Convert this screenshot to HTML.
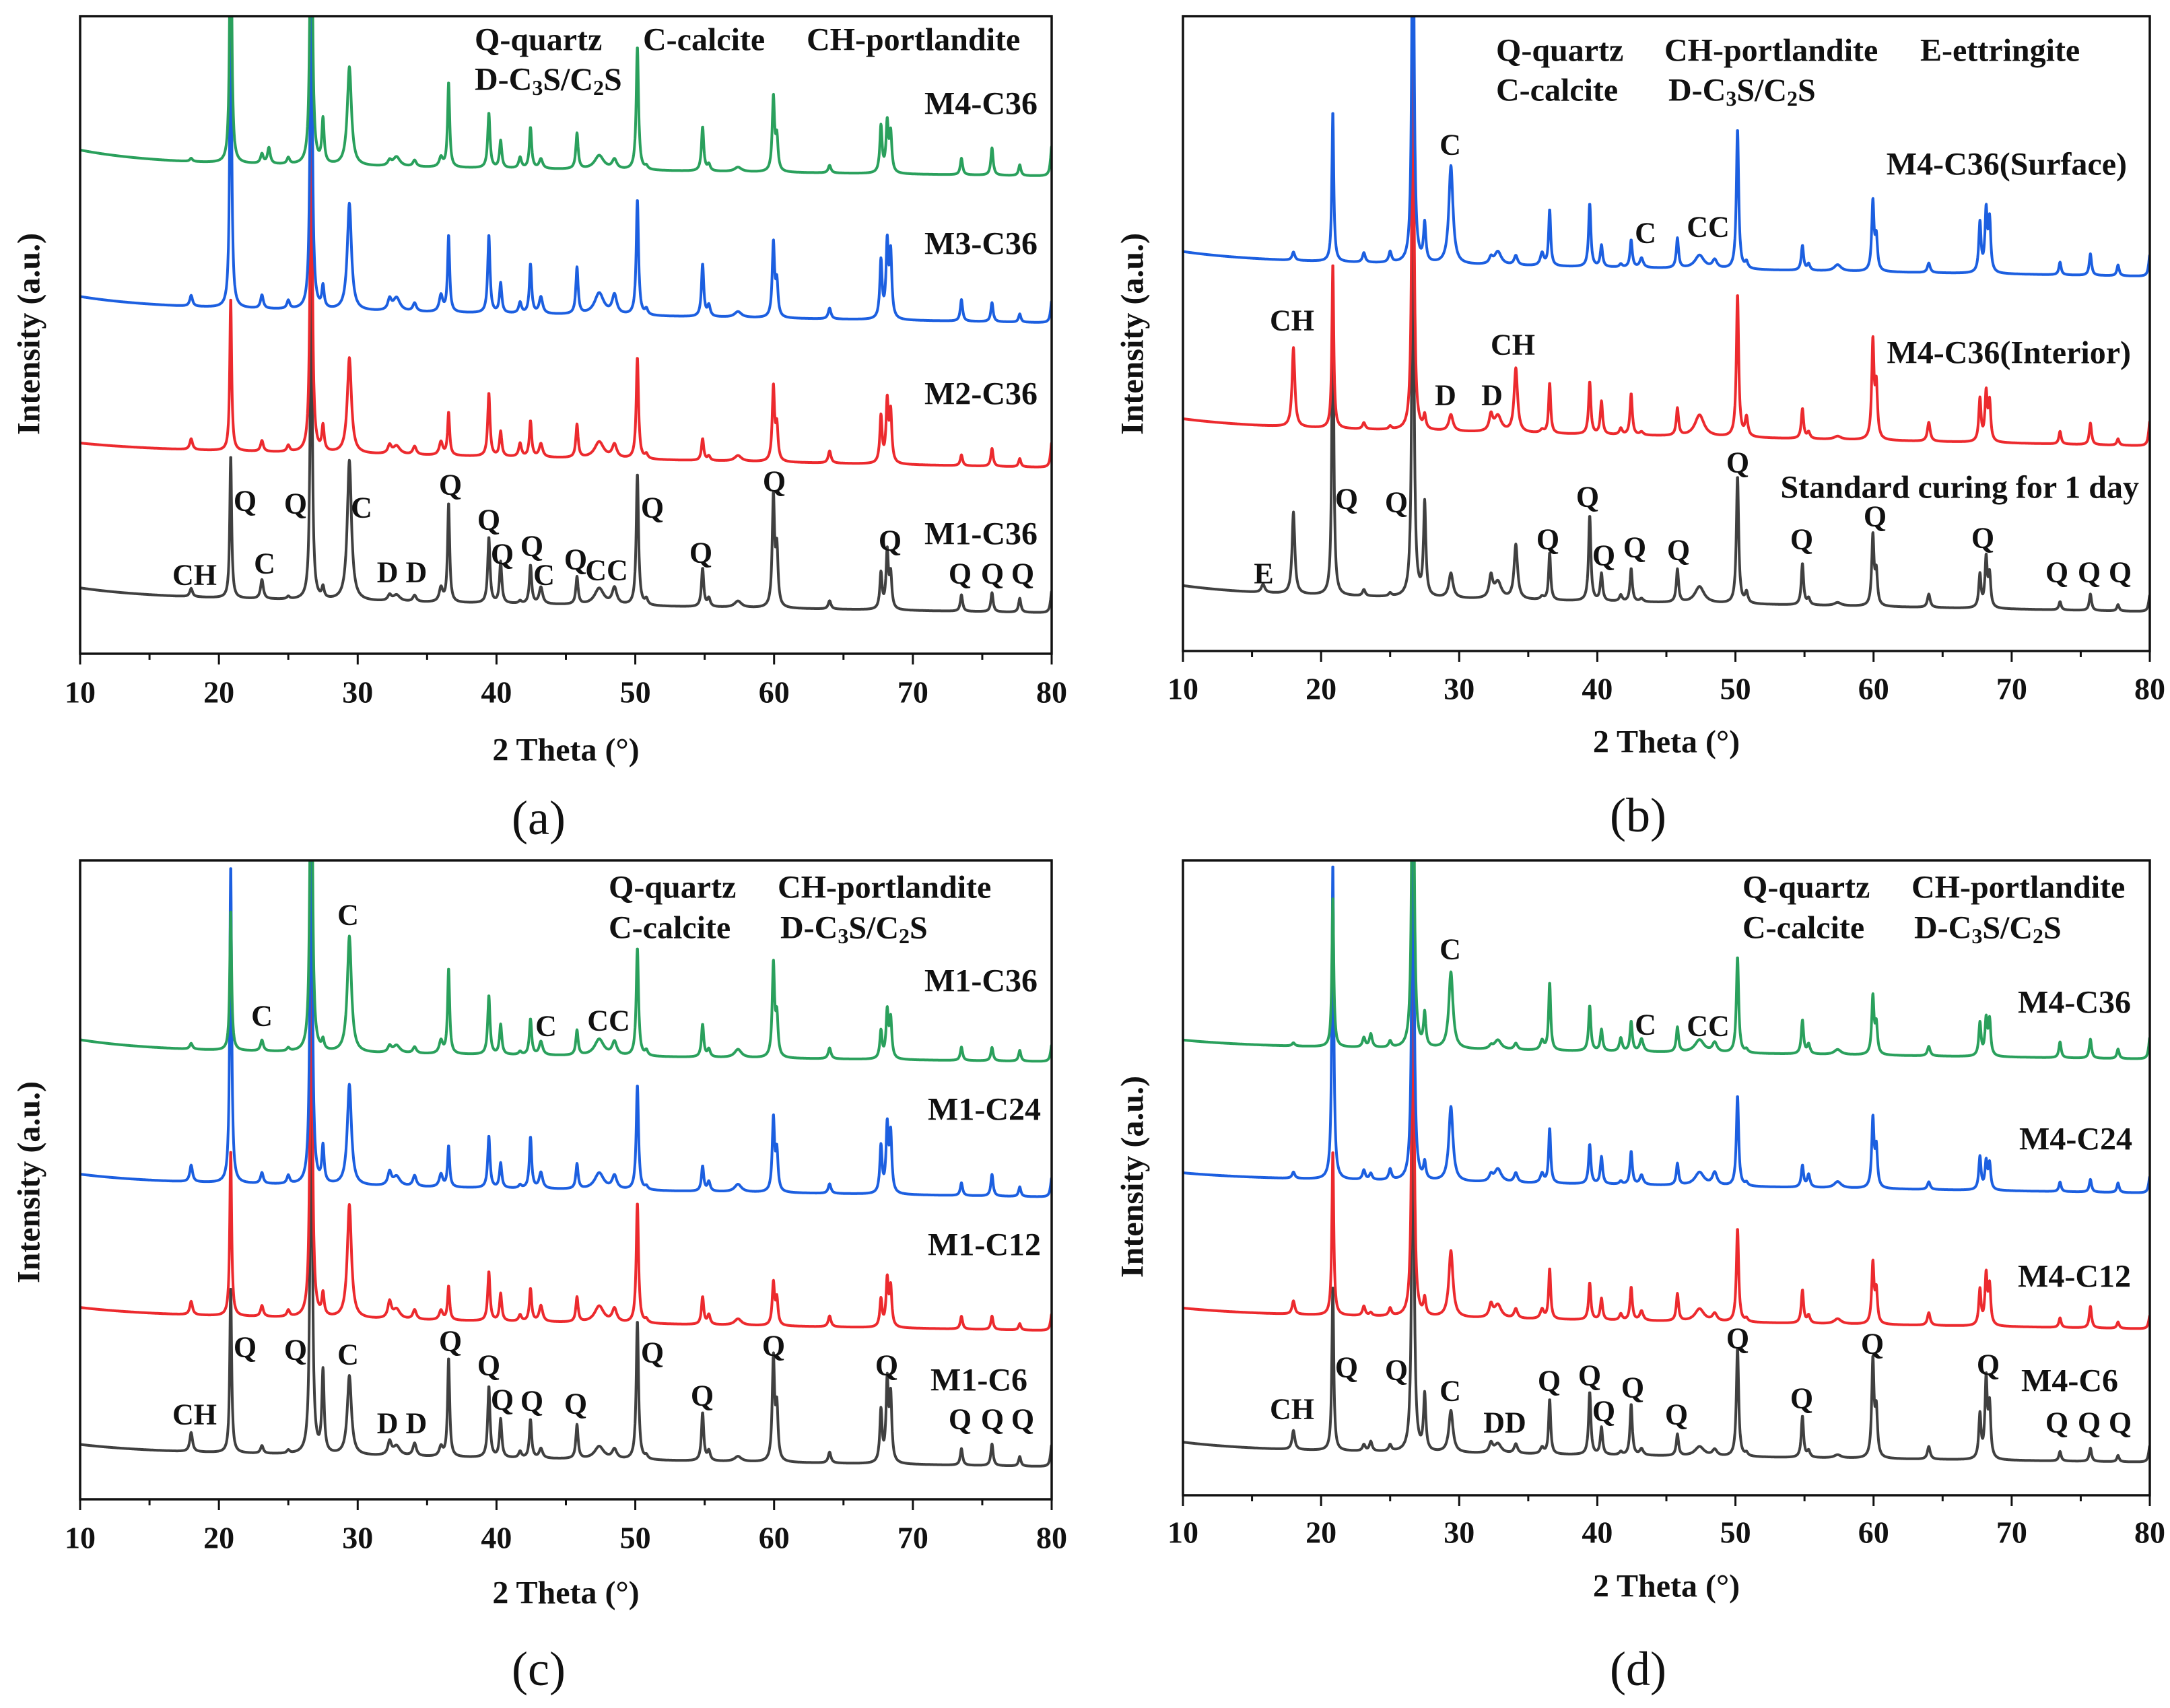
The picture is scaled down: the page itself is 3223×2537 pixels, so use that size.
<!DOCTYPE html>
<html><head><meta charset="utf-8"><style>
html,body{margin:0;padding:0;background:#fff;}
svg{display:block;}
text{font-family:"Liberation Serif","DejaVu Serif",serif;font-weight:bold;fill:#111;}
</style></head><body>
<svg id="fig" xmlns="http://www.w3.org/2000/svg" width="3223" height="2537" viewBox="0 0 3223 2537">
<rect width="3223" height="2537" fill="#fff"/>
</svg>
<script>
// ---- data ----
const peakPos=[15.8,18.0,20.85,23.1,23.6,25.0,26.65,27.5,29.4,32.3,32.8,34.1,36.0,36.55,39.45,40.3,41.7,42.45,43.2,45.8,47.4,48.5,50.15,50.8,54.85,55.3,57.4,59.95,60.2,64.0,67.7,68.15,68.4,73.5,75.7,77.7,80.0];
const peakWidth=[.15,.12,.08,.12,.12,.12,.09,.1,.18,.15,.3,.15,.15,.09,.1,.1,.12,.1,.15,.1,.4,.2,.1,.12,.1,.12,.3,.1,.1,.12,.1,.1,.1,.1,.1,.1,.1];
const xTicks=[10,20,30,40,50,60,70,80];

const aGray=[0,13,224,30,0,4,520,17,220,9,10,10,22,155,103,65,4,60,26,43,26,26,206,9,60,13,10,172,86,13,56,90,52,26,30,22,34];
const aRed=[0,17,240,17,0,10,600,39,150,13,13,13,21,67,99,39,21,56,21,52,26,21,159,7,34,7,9,116,52,19,73,95,77,17,28,13,39];
const aBlue=[0,17,520,21,0,13,600,34,168,17,21,13,26,120,122,47,17,77,26,73,34,30,181,9,82,17,9,116,52,17,90,116,99,34,30,13,34];
const aGreen=[0,5,500,15,25,10,600,69,155,8,15,10,15,133,86,43,17,64,15,56,22,15,193,5,69,10,7,116,50,12,73,77,60,26,43,17,47];

const bGray=[13,129,500,10,0,5,700,147,39,34,26,86,5,74,134,43,10,52,5,52,26,0,200,17,65,10,5,110,50,21,52,77,50,13,26,10,26];
const bRed=[0,125,260,10,0,5,700,21,26,25,25,101,5,79,82,52,10,65,5,43,34,0,224,30,47,10,5,153,80,30,67,75,60,20,34,10,39];
const bBlue=[0,13,237,15,0,17,700,60,155,10,21,15,20,88,99,34,5,43,15,47,21,13,220,10,39,10,10,109,50,15,78,95,80,20,34,17,34];

const cGray=[0,30,260,12,0,5,700,128,124,21,15,20,15,154,111,60,10,60,15,53,20,15,217,5,75,15,8,161,80,17,81,125,100,26,34,15,34];
const cRed=[0,21,260,17,0,10,700,34,178,26,15,15,15,53,77,43,10,51,25,39,26,21,188,5,43,15,10,66,40,17,43,73,60,20,21,10,26];
const cBlue=[0,26,500,17,0,13,700,57,158,21,15,17,20,64,81,39,5,80,25,39,26,21,164,5,39,15,12,114,60,15,73,103,90,20,34,15,30];
const cGreen=[0,9,220,17,0,5,700,15,182,10,12,10,20,133,92,47,5,56,21,39,26,21,169,8,51,12,13,146,60,17,43,73,60,21,21,17,26];

const dGray=[0,30,260,10,15,10,700,88,66,15,15,15,10,86,98,43,5,80,10,34,15,10,171,5,65,10,5,153,70,20,69,124,80,15,21,10,26];
const dRed=[0,21,260,15,5,12,700,26,105,20,21,15,15,79,58,34,10,52,15,43,20,12,147,5,52,12,8,95,50,20,56,78,60,15,34,10,21];
const dBlue=[0,10,500,15,10,17,700,26,118,10,21,15,15,86,62,43,5,52,15,34,21,20,142,5,34,20,10,108,60,12,52,43,40,15,20,15,26];
const dGreen=[0,5,237,15,21,10,700,52,121,5,15,10,15,106,71,34,21,47,20,39,20,15,151,5,53,15,8,91,45,15,52,56,55,25,30,15,34];

// background [level at 80°, slope per degree, low-angle hump]
const aBg=[[64,.36,14],[292,.42,9],[519,.36,16],[749,.3,20]];
const bBg=[[62,.4,13],[323,.44,12],[590,.36,14]];
const cBg=[[51,.34,11],[264,.36,11],[473,.34,12],[685,.26,16]];
const dBg=[[52,.28,12],[262,.34,9],[476,.34,8],[687,.3,9]];

const COL={gray:'#404040',red:'#ec2a2e',blue:'#1c5fe0',green:'#2aa05c'};
const NS='http://www.w3.org/2000/svg';
const svg=document.getElementById('fig');
function el(tag,attrs,parent){const e=document.createElementNS(NS,tag);for(const k in attrs)e.setAttribute(k,attrs[k]);(parent||svg).appendChild(e);return e;}

const panels=[
 {id:'a',x0:119,x1:1562,y0:24,y1:971,tickY:1028,xlabY:1114,letX:800,letY:1215,ylabX:43,ylabY:496,
  series:[[aGray,aBg[0],'gray','M1-C36'],[aRed,aBg[1],'red','M2-C36'],[aBlue,aBg[2],'blue','M3-C36'],[aGreen,aBg[3],'green','M4-C36']],
  labels:[['M4-C36',1541,154],['M3-C36',1541,362],['M2-C36',1541,585],['M1-C36',1541,793]],
  legend:[['Q-quartz',705,59],['C-calcite',955,59],['CH-portlandite',1198,59],['D',705,118]],
  ann:[['CH',289,854],['C',393,837],['Q',364,744],['Q',439,748],['C',537,754],['Q',669,720],['D D',597,850],['Q',726,772],['Q',746,823],['Q',790,811],['C',808,854],['Q',855,831],['CC',901,847],['Q',969,754],['Q',1041,821],['Q',1150,715],['Q',1322,803],['Q',1426,852],['Q',1474,852],['Q',1519,852]]},
 {id:'b',x0:1757,x1:3193,y0:24,y1:967,tickY:1023,xlabY:1102,letX:2433,letY:1211,ylabX:1682,ylabY:496,
  series:[[bGray,bBg[0],'gray','standard-1day'],[bRed,bBg[1],'red','interior'],[bBlue,bBg[2],'blue','surface']],
  labels:[['M4-C36(Surface)',3159,244],['M4-C36(Interior)',3165,524],['Standard curing for 1 day',3177,724]],
  legend:[['Q-quartz',2222,75],['CH-portlandite',2472,75],['E-ettringite',2852,75],['C-calcite',2222,134],['D',2478,134]],
  ann:[['C',2154,215],['C',2444,346],['CC',2537,337],['CH',1919,476],['CH',2247,512],['D',2147,587],['D',2216,587],['Q',2581,687],['Q',2000,741],['Q',2074,746],['E',1877,852],['Q',2299,801],['Q',2358,738],['Q',2382,825],['Q',2428,813],['Q',2493,817],['Q',2676,801],['Q',2785,767],['Q',2945,799],['Q',3055,850],['Q',3103,850],['Q',3149,850]]},
 {id:'c',x0:119,x1:1562,y0:1278,y1:2227,tickY:2284,xlabY:2366,letX:800,letY:2479,ylabX:43,ylabY:1756,
  series:[[cGray,cBg[0],'gray','M1-C6'],[cRed,cBg[1],'red','M1-C12'],[cBlue,cBg[2],'blue','M1-C24'],[cGreen,cBg[3],'green','M1-C36']],
  labels:[['M1-C36',1541,1457],['M1-C24',1546,1648],['M1-C12',1546,1849],['M1-C6',1526,2050]],
  legend:[['Q-quartz',904,1318],['CH-portlandite',1155,1318],['C-calcite',904,1378],['D',1159,1378]],
  ann:[['C',517,1359],['C',389,1509],['C',811,1524],['CC',904,1516],['CH',289,2101],['Q',364,2001],['Q',439,2005],['C',517,2012],['Q',669,1992],['Q',726,2028],['D D',597,2114],['Q',746,2079],['Q',790,2081],['Q',855,2085],['Q',969,2009],['Q',1043,2073],['Q',1149,1999],['Q',1317,2028],['Q',1426,2108],['Q',1474,2108],['Q',1519,2108]]},
 {id:'d',x0:1757,x1:3193,y0:1278,y1:2221,tickY:2276,xlabY:2356,letX:2433,letY:2479,ylabX:1682,ylabY:1748,
  series:[[dGray,dBg[0],'gray','M4-C6'],[dRed,dBg[1],'red','M4-C12'],[dBlue,dBg[2],'blue','M4-C24'],[dGreen,dBg[3],'green','M4-C36']],
  labels:[['M4-C36',3165,1489],['M4-C24',3167,1692],['M4-C12',3165,1896],['M4-C6',3146,2051]],
  legend:[['Q-quartz',2588,1318],['CH-portlandite',2839,1318],['C-calcite',2588,1378],['D',2843,1378]],
  ann:[['C',2154,1410],['C',2444,1522],['CC',2537,1524],['CH',1919,2093],['Q',2000,2031],['Q',2074,2035],['C',2154,2066],['DD',2235,2113],['Q',2301,2051],['Q',2361,2043],['Q',2382,2096],['Q',2425,2061],['Q',2490,2101],['Q',2581,1988],['Q',2676,2077],['Q',2781,1996],['Q',2953,2027],['Q',3055,2113],['Q',3103,2113],['Q',3149,2113]]}
];

function intensity(x,heights,bg){
  let v=bg[0]+bg[1]*(80-x)+bg[2]*Math.exp(-(x-10)/5);
  for(let i=0;i<peakPos.length;i++){const d=(x-peakPos[i])/peakWidth[i];v+=heights[i]/(1+d*d);}
  return v;
}

panels.forEach(p=>{
  const g=el('g',{});
  
  
  const xs=v=>p.x0+(v-10)/70*(p.x1-p.x0);
  const ys=v=>p.y1-v/1000*(p.y1-p.y0);
  const cp=el('clipPath',{id:'clip-'+p.id},g);
  el('rect',{x:p.x0,y:p.y0,width:p.x1-p.x0,height:p.y1-p.y0},cp);
  const sg=el('g',{'clip-path':'url(#clip-'+p.id+')'},g);
  p.series.forEach(s=>{
    let d='';
    for(let x=10;x<=80.0001;x+=0.02){const X=xs(x),Y=ys(intensity(x,s[0],s[1]));d+=(d?'L':'M')+X.toFixed(1)+' '+Y.toFixed(1);}
    const path=el('path',{d:d,fill:'none',stroke:COL[s[2]],'stroke-width':4,'stroke-linejoin':'round'},sg);
    
    
  });
  const frame=el('rect',{x:p.x0,y:p.y0,width:p.x1-p.x0,height:p.y1-p.y0,fill:'none',stroke:'#111','stroke-width':3.5},g);
  
  
  for(let v=10;v<=80;v+=5){
    const major=(v%10===0);
    el('line',{x1:xs(v),x2:xs(v),y1:p.y1,y2:p.y1+(major?16:9),stroke:'#111','stroke-width':3},g);
  }
  xTicks.forEach(v=>{
    const t=el('text',{x:xs(v),y:p.tickY,'text-anchor':'middle','dominant-baseline':'central','font-size':46},g);
    t.textContent=v;
    
    
  });
  const xl=el('text',{x:(p.x0+p.x1)/2,y:p.xlabY,'text-anchor':'middle','dominant-baseline':'central','font-size':48},g);
  xl.textContent='2 Theta (°)';
  
  
  const yl=el('text',{x:0,y:0,'text-anchor':'middle','dominant-baseline':'central','font-size':48,transform:'translate('+p.ylabX+','+p.ylabY+') rotate(-90)'},g);
  yl.textContent='Intensity (a.u.)';
  
  
  const pl=el('text',{x:p.letX,y:p.letY,'text-anchor':'middle','dominant-baseline':'central','font-size':72,'font-weight':'normal'},g);
  pl.textContent='('+p.id+')';
  pl.style.fontWeight='normal';
  
  
  p.labels.forEach(l=>{
    const t=el('text',{x:l[1],y:l[2],'text-anchor':'end','dominant-baseline':'central','font-size':48},g);
    t.textContent=l[0];
    
    
  });
  p.legend.forEach(l=>{
    const t=el('text',{x:l[1],y:l[2],'dominant-baseline':'central','font-size':48},g);
    if(l[0]==='D'){
      t.appendChild(document.createTextNode('D-C'));
      const s1=el('tspan',{'font-size':32,dy:12},t);s1.textContent='3';
      const s2=el('tspan',{dy:-12},t);s2.textContent='S/C';
      const s3=el('tspan',{'font-size':32,dy:12},t);s3.textContent='2';
      const s4=el('tspan',{dy:-12},t);s4.textContent='S';
    } else t.textContent=l[0];
    
    
  });
  p.ann.forEach(a=>{
    const t=el('text',{x:a[1],y:a[2],'text-anchor':'middle','dominant-baseline':'central','font-size':44},g);
    t.textContent=a[0];
    
    
  });
});
</script>
</body></html>
